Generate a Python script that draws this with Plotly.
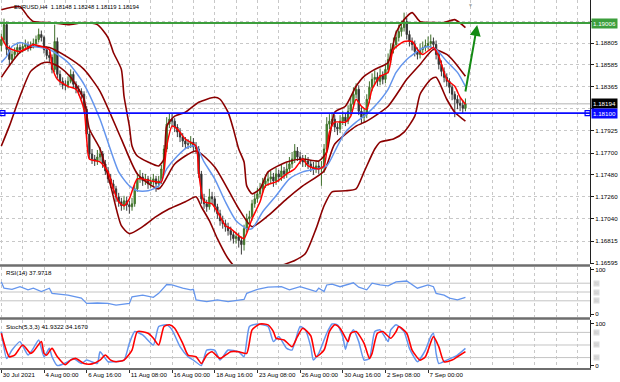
import plotly.graph_objects as go

# ---------------- data ----------------
closes = [1.1884,1.1899,1.1874,1.1864,1.1869,1.1872,1.1876,1.1874,1.1877,1.1879,
          1.1876,1.1878,1.1880,1.1884,1.1889,1.1886,1.1874,1.1868,1.1866,1.1854,
          1.1882,1.1849,1.1842,1.1838,1.1838,1.1842,1.1849,1.1839,1.1834,1.1832,
          1.1829,1.1814,1.1789,1.1769,1.1764,1.1762,1.1766,1.1769,1.1759,1.1752,
          1.1744,1.1739,1.1734,1.1726,1.1721,1.1717,1.1722,1.1718,1.1716,1.1719,
          1.1734,1.1744,1.1746,1.1742,1.1744,1.1739,1.1741,1.1744,1.1739,1.1742,
          1.1754,1.1774,1.1799,1.1804,1.1802,1.1796,1.1791,1.1786,1.1782,1.1779,
          1.1779,1.1781,1.1776,1.1774,1.1749,1.1724,1.1719,1.1716,1.1726,1.1724,
          1.1716,1.1709,1.1702,1.1699,1.1696,1.1692,1.1688,1.1684,1.1686,1.1682,
          1.1678,1.1694,1.1704,1.1706,1.1719,1.1724,1.1729,1.1734,1.1739,1.1742,
          1.1744,1.1746,1.1742,1.1749,1.1746,1.1752,1.1749,1.1754,1.1759,1.1764,
          1.1772,1.1766,1.1764,1.1761,1.1762,1.1759,1.1756,1.1754,1.1757,1.1754,
          1.1756,1.1774,1.1799,1.1802,1.1804,1.1796,1.1794,1.1802,1.1806,1.1802,
          1.1812,1.1819,1.1829,1.1834,1.1812,1.1806,1.1809,1.1824,1.1836,1.1844,
          1.1846,1.1842,1.1848,1.1844,1.1854,1.1864,1.1874,1.1879,1.1886,1.1892,
          1.1896,1.1902,1.1889,1.1882,1.1879,1.1872,1.1869,1.1874,1.1876,1.1878,
          1.1880,1.1882,1.1879,1.1869,1.1859,1.1852,1.1846,1.1842,1.1836,1.1829,
          1.1824,1.1820,1.1818,1.1815,1.18194]
opens = [1.1878,1.1884,1.1899,1.1874,1.1864,1.1869,1.1872,1.1876,1.1874,1.1877,
         1.1879,1.1876,1.1878,1.1880,1.1884,1.1889,1.1886,1.1874,1.1868,1.1866,
         1.1854,1.1882,1.1849,1.1842,1.1838,1.1838,1.1842,1.1849,1.1839,1.1834,
         1.1832,1.1829,1.1814,1.1789,1.1769,1.1764,1.1762,1.1766,1.1769,1.1759,
         1.1752,1.1744,1.1739,1.1734,1.1726,1.1721,1.1717,1.1722,1.1718,1.1716,
         1.1719,1.1734,1.1744,1.1746,1.1742,1.1744,1.1739,1.1741,1.1744,1.1739,
         1.1742,1.1754,1.1774,1.1799,1.1804,1.1802,1.1796,1.1791,1.1786,1.1782,
         1.1779,1.1779,1.1781,1.1776,1.1774,1.1749,1.1724,1.1719,1.1716,1.1726,
         1.1724,1.1716,1.1709,1.1702,1.1699,1.1696,1.1692,1.1688,1.1684,1.1686,
         1.1682,1.1678,1.1694,1.1704,1.1706,1.1719,1.1724,1.1729,1.1734,1.1739,
         1.1742,1.1744,1.1746,1.1742,1.1749,1.1746,1.1752,1.1749,1.1754,1.1759,
         1.1764,1.1772,1.1766,1.1764,1.1761,1.1762,1.1759,1.1756,1.1754,1.1757,
         1.1754,1.1756,1.1774,1.1799,1.1802,1.1804,1.1796,1.1794,1.1802,1.1806,
         1.1802,1.1812,1.1819,1.1829,1.1834,1.1812,1.1806,1.1809,1.1824,1.1836,
         1.1844,1.1846,1.1842,1.1848,1.1844,1.1854,1.1864,1.1874,1.1879,1.1886,
         1.1892,1.1896,1.1902,1.1889,1.1882,1.1879,1.1872,1.1869,1.1874,1.1876,
         1.1878,1.1880,1.1882,1.1879,1.1869,1.1859,1.1852,1.1846,1.1842,1.1836,
         1.1829,1.1824,1.1820,1.1818,1.18148]
highs = [1.1890,1.1905,1.1902,1.1878,1.1873,1.1876,1.1881,1.1879,1.1881,1.1884,
         1.1882,1.1882,1.1885,1.1888,1.1895,1.1893,1.1888,1.1877,1.1872,1.1869,
         1.1899,1.1886,1.1853,1.1846,1.1843,1.1847,1.1854,1.1852,1.1842,1.1838,
         1.1835,1.1832,1.1817,1.1792,1.1774,1.1768,1.1773,1.1776,1.1772,1.1763,
         1.1756,1.1749,1.1743,1.1737,1.1730,1.1725,1.1727,1.1726,1.1722,1.1725,
         1.1738,1.1750,1.1753,1.1750,1.1749,1.1747,1.1746,1.1749,1.1747,1.1747,
         1.1758,1.1778,1.1806,1.1810,1.1809,1.1805,1.1799,1.1795,1.1790,1.1786,
         1.1784,1.1787,1.1785,1.1781,1.1777,1.1752,1.1729,1.1723,1.1734,1.1731,
         1.1727,1.1719,1.1713,1.1707,1.1703,1.1700,1.1696,1.1692,1.1691,1.1690,
         1.1686,1.1698,1.1709,1.1712,1.1723,1.1729,1.1735,1.1740,1.1745,1.1748,
         1.1751,1.1752,1.1750,1.1755,1.1753,1.1758,1.1756,1.1760,1.1766,1.1771,
         1.1779,1.1776,1.1771,1.1768,1.1768,1.1766,1.1763,1.1761,1.1763,1.1762,
         1.1762,1.1779,1.1806,1.1809,1.1811,1.1808,1.1800,1.1808,1.1812,1.1810,
         1.1818,1.1826,1.1836,1.1840,1.1838,1.1816,1.1815,1.1829,1.1842,1.1850,
         1.1853,1.1851,1.1855,1.1852,1.1860,1.1870,1.1880,1.1886,1.1893,1.1899,
         1.1903,1.1911,1.1906,1.1893,1.1886,1.1883,1.1876,1.1880,1.1882,1.1884,
         1.1887,1.1889,1.1886,1.1883,1.1872,1.1863,1.1856,1.1850,1.1845,1.1839,
         1.1832,1.1828,1.1825,1.1823,1.18248]
lows = [1.1872,1.1880,1.1868,1.1858,1.1860,1.1865,1.1868,1.1870,1.1871,1.1873,
        1.1872,1.1873,1.1875,1.1877,1.1881,1.1882,1.1870,1.1864,1.1861,1.1850,
        1.1851,1.1845,1.1838,1.1834,1.1833,1.1835,1.1840,1.1835,1.1830,1.1828,
        1.1824,1.1810,1.1784,1.1764,1.1759,1.1757,1.1758,1.1762,1.1755,1.1748,
        1.1740,1.1735,1.1729,1.1721,1.1716,1.1712,1.1713,1.1712,1.1709,1.1712,
        1.1716,1.1731,1.1740,1.1737,1.1738,1.1734,1.1735,1.1737,1.1731,1.1735,
        1.1739,1.1751,1.1771,1.1795,1.1797,1.1791,1.1786,1.1781,1.1776,1.1774,
        1.1774,1.1775,1.1772,1.1769,1.1745,1.1719,1.1714,1.1711,1.1713,1.1719,
        1.1711,1.1704,1.1697,1.1694,1.1691,1.1687,1.1682,1.1679,1.1679,1.1675,
        1.1668,1.1672,1.1690,1.1699,1.1702,1.1715,1.1720,1.1725,1.1730,1.1735,
        1.1737,1.1739,1.1736,1.1738,1.1741,1.1742,1.1744,1.1745,1.1750,1.1755,
        1.1760,1.1762,1.1759,1.1756,1.1756,1.1754,1.1751,1.1748,1.1750,1.1749,
        1.1737,1.1750,1.1770,1.1794,1.1797,1.1791,1.1788,1.1790,1.1798,1.1797,
        1.1799,1.1808,1.1815,1.1825,1.1808,1.1799,1.1801,1.1805,1.1820,1.1832,
        1.1839,1.1837,1.1838,1.1839,1.1840,1.1850,1.1860,1.1870,1.1875,1.1882,
        1.1887,1.1892,1.1884,1.1877,1.1873,1.1867,1.1864,1.1865,1.1870,1.1872,
        1.1874,1.1876,1.1874,1.1864,1.1854,1.1847,1.1841,1.1837,1.1830,1.1823,
        1.1806,1.1814,1.1812,1.1810,1.18119]
bar_idx = list(range(len(closes)))

# Bollinger upper / middle / lower (dark red), read at sample bars
bbu_idx = [0,7,10,12,18,25,31,36,40,42,45,46,48,49,51,55,59,61,62,65,69,74,80,82,85,87,89,91,92,94,
           97,100,107,113,119,122,125,129,133,136,140,145,148,151,154,157,162,166,170,174]
bbu_val = [1.1914,1.1917,1.1907,1.1902,1.1901,1.1899,1.1901,1.1899,1.1886,1.1871,
           1.1854,1.1827,1.1797,1.1777,1.1767,1.1761,1.1757,1.1764,1.1797,1.1807,
           1.1811,1.1821,1.1826,1.1824,1.1811,1.1794,1.1774,1.1761,1.1737,1.1729,
           1.1734,1.1751,1.1761,1.1764,1.1762,1.1771,1.1811,1.1817,1.1837,1.1847,
           1.1854,1.1861,1.1891,1.1904,1.1911,1.1902,1.1901,1.1901,1.1904,1.1896]
bbl_idx = [0,3,7,11,15,18,22,26,31,33,37,41,45,48,53,58,63,69,73,75,78,81,85,89,93,99,104,110,114,118,
           121,124,129,133,136,140,142,147,151,155,157,161,163,167,170,174]
bbl_val = [1.1777,1.1797,1.1827,1.1852,1.1860,1.1861,1.1856,1.1846,1.1824,1.1794,
           1.1774,1.1737,1.1697,1.1689,1.1696,1.1706,1.1714,1.1721,1.1726,1.1716,
           1.1702,1.1684,1.1664,1.1652,1.1646,1.1649,1.1656,1.1662,1.1669,1.1694,
           1.1717,1.1731,1.1732,1.1734,1.1751,1.1774,1.1781,1.1784,1.1791,1.1807,
           1.1829,1.1844,1.1846,1.1824,1.1811,1.1802]
bbm_idx = [0,7,12,18,25,31,37,45,51,59,65,73,80,89,94,100,107,113,121,125,133,137,145,152,157,162,167,170,174]
bbm_val = [1.1846,1.1871,1.1877,1.1876,1.1866,1.1854,1.1832,1.1784,1.1749,1.1734,
           1.1759,1.1772,1.1756,1.1714,1.1696,1.1707,1.1724,1.1737,1.1752,1.1779,
           1.1797,1.1802,1.1817,1.1844,1.1859,1.1874,1.1869,1.1861,1.1847]
# slower moving average (blue)
ma_slow_idx = [0,2,4,7,12,18,25,31,37,44,48,51,55,59,62,66,70,73,76,80,84,88,92,94,98,103,108,113,118,122,
               126,129,133,136,140,145,148,152,157,160,163,167,171,174]
ma_slow_val = [1.1861,1.1867,1.1877,1.1881,1.1877,1.1874,1.1861,1.1839,1.1804,1.1751,
               1.1737,1.1732,1.1732,1.1737,1.1754,1.1767,1.1776,1.1777,1.1761,1.1744,
               1.1721,1.1702,1.1694,1.1694,1.1711,1.1727,1.1744,1.1751,1.1754,1.1757,
               1.1777,1.1791,1.1801,1.1807,1.1817,1.1834,1.1851,1.1864,1.1874,1.1877,
               1.1874,1.1862,1.1851,1.1837]
# fast moving average (red)
ma_fast_idx = [0,2,4,7,10,12,15,18,19,21,25,28,31,32,33,37,40,42,44,46,48,51,56,60,62,64,66,69,73,74,
               76,79,81,84,86,89,91,94,97,99,103,107,110,113,115,119,121,123,125,129,131,133,135,137,139,
               142,145,147,151,154,156,158,162,164,167,170,172,174]
ma_fast_val = [1.1887,1.1877,1.1874,1.1872,1.1876,1.1879,1.1877,1.1874,1.1857,1.1844,
               1.1837,1.1834,1.1814,1.1784,1.1764,1.1761,1.1751,1.1734,1.1721,1.1717,
               1.1724,1.1744,1.1742,1.1741,1.1777,1.1797,1.1794,1.1784,1.1777,1.1751,
               1.1721,1.1719,1.1711,1.1697,1.1694,1.1687,1.1684,1.1704,1.1721,1.1737,
               1.1741,1.1749,1.1754,1.1764,1.1757,1.1754,1.1757,1.1791,1.1801,1.1801,
               1.1807,1.1824,1.1817,1.1814,1.1834,1.1847,1.1851,1.1874,1.1882,1.1882,
               1.1874,1.1869,1.1876,1.1867,1.1844,1.1837,1.1826,1.1819]
# RSI(14)
rsi_idx = [0,1,4,7,10,12,15,17,18,19,25,30,32,36,40,43,48,49,53,57,59,62,64,68,71,72,73,77,81,85,
           90,91,92,96,100,105,108,112,116,118,119,121,122,124,127,128,132,134,137,139,142,145,148,152,
           156,160,162,163,166,168,171,174]
rsi_val = [73,58.6,56,62,55,58.6,51,55,58.6,47,43,36,24,25,24,20,24,39,43,38,
           47,67,66,58.6,55,56,32,28,32,28,32,33,47,56,61,62,55,62,55,51,
           58.6,51,66,68,62,64,71,61,55,70,66,64,73,75,58.6,66,62,47,43,36,
           32,37.97]
rsi_levels = [70, 50, 30]
# Stochastic(5,3,3): %K (blue) and %D (red)
stk_idx = [0,2,4,7,10,12,14,16,18,19,21,25,27,30,32,36,37,40,42,46,48,50,53,57,59,62,64,67,70,72,
           75,77,80,82,85,89,91,93,96,100,102,104,107,109,112,114,116,117,119,122,124,126,128,129,130,
           132,134,136,138,140,142,145,146,148,151,153,156,159,161,162,163,164,167,171,174]
stk_val = [82,18,38,58,26,42,62,22,42,22,1,10,18,6,14,6,34,10,10,14,
           54,82,74,50,94,98,86,46,22,14,1,38,38,14,38,34,22,94,100,94,
           58,70,42,38,94,86,46,14,30,78,100,98,70,40,62,86,58,14,18,82,
           86,58,86,98,82,42,10,38,70,78,30,6,14,26,41.93]
std_idx = [0,3,5,8,11,12,15,16,17,19,21,24,26,28,31,34,37,39,41,43,46,49,51,55,57,59,61,63,65,68,
           70,73,75,77,79,82,86,89,92,94,97,100,102,103,106,109,111,113,116,118,121,123,125,127,130,
           131,133,136,138,139,141,143,146,148,149,152,154,157,159,162,164,166,169,171,174]
std_val = [78,22,26,50,30,34,58,30,26,42,22,3,14,18,6,5,14,26,14,10,
           14,38,82,78,66,50,94,98,90,54,26,22,6,26,34,18,34,34,30,86,
           100,98,82,66,62,46,70,90,72,22,38,82,98,90,58,78,82,54,18,30,
           78,82,66,82,94,78,38,14,22,70,46,10,14,22,34.17]
stoch_levels = [80, 50, 20]

# axis labels
date_idx = [0,16,32,48,64,80,96,112,128,144,160]
date_labels = ["30 Jul 2021","4 Aug 00:00","6 Aug 16:00","11 Aug 08:00","16 Aug 00:00",
               "18 Aug 16:00","23 Aug 08:00","26 Aug 00:00","30 Aug 16:00","2 Sep 08:00","7 Sep 00:00"]
grid_idx = [0,8,16,24,32,40,48,56,64,72,80,88,96,104,112,120,128,136,144,152,160,168,176,184,192,200,208,216]
price_ticks = [1.16595,1.16815,1.17040,1.17260,1.17480,1.17700,1.17925,1.18145,1.18365,1.18585,1.18805,1.19025]
price_tick_text = ["1.16595","1.16815","1.17040","1.17260","1.17480","1.17700","1.17925","","1.18365","1.18585","1.18805",""]

resistance = 1.19006
support = 1.18100
bid = 1.18194
arrow_idx = [173.9, 178.4]
arrow_price = [1.18303, 1.18986]
title_text = "EURUSD,H4  1.18148 1.18248 1.18119 1.18194"

# ---------------- figure ----------------
FONT = "Liberation Sans"
XR = [-0.5, 220.7]
DARKRED = "#8B0000"
CORN = "#6495ED"

fig = go.Figure()

fig.add_trace(go.Candlestick(
    x=bar_idx, open=opens, high=highs, low=lows, close=closes,
    increasing=dict(line=dict(color="#3f6f2a", width=1), fillcolor="#46a02a"),
    decreasing=dict(line=dict(color="#3a3a3a", width=1), fillcolor="#1a1a1a"),
    whiskerwidth=0, xaxis="x", yaxis="y", showlegend=False, hoverinfo="skip"))

for ix, vals, col, w in [(bbu_idx, bbu_val, DARKRED, 1.6), (bbm_idx, bbm_val, DARKRED, 1.6),
                         (bbl_idx, bbl_val, DARKRED, 1.6), (ma_slow_idx, ma_slow_val, CORN, 1.5),
                         (ma_fast_idx, ma_fast_val, "#FF0000", 1.5)]:
    fig.add_trace(go.Scatter(x=ix, y=vals, mode="lines", line=dict(color=col, width=w, shape="spline", smoothing=0.6),
                             xaxis="x", yaxis="y", showlegend=False, hoverinfo="skip"))

# support line end squares
fig.add_trace(go.Scatter(x=[XR[0] + 0.9, XR[1] - 0.9], y=[support, support], mode="markers",
                         marker=dict(symbol="square-open", size=5, color="#0000FF", line=dict(width=1.2)),
                         xaxis="x", yaxis="y", showlegend=False, hoverinfo="skip"))

fig.add_trace(go.Scatter(x=rsi_idx, y=rsi_val, mode="lines", line=dict(color=CORN, width=1.3),
                         xaxis="x2", yaxis="y2", showlegend=False, hoverinfo="skip"))
fig.add_trace(go.Scatter(x=stk_idx, y=stk_val, mode="lines", line=dict(color=CORN, width=1.5, shape="spline", smoothing=0.5),
                         xaxis="x3", yaxis="y3", showlegend=False, hoverinfo="skip"))
fig.add_trace(go.Scatter(x=std_idx, y=std_val, mode="lines", line=dict(color="#FF0000", width=1.6, shape="spline", smoothing=0.6),
                         xaxis="x3", yaxis="y3", showlegend=False, hoverinfo="skip"))

H = 368.0
def py(px):
    return 1 - px / H

gridc = "#c8c8c8"
xcommon = dict(range=XR, showgrid=False, zeroline=False, showticklabels=False,
               minor=dict(tickvals=grid_idx, showgrid=True, gridcolor=gridc, griddash="dot", gridwidth=1, ticks=""),
               fixedrange=True)
ycommon = dict(side="right", zeroline=False, showline=True, linecolor="#202020", linewidth=1,
               ticks="outside", ticklen=3, tickcolor="#202020",
               tickfont=dict(family=FONT, size=6.2, color="#000"), fixedrange=True)

fig.update_layout(
    width=620, height=382, margin=dict(l=0, r=30, t=0, b=14, autoexpand=False),
    paper_bgcolor="white", plot_bgcolor="white", showlegend=False,
    xaxis=dict(domain=[0, 1], anchor="y", rangeslider=dict(visible=False), **xcommon),
    xaxis2=dict(domain=[0, 1], anchor="y2", **xcommon),
    xaxis3=dict(domain=[0, 1], anchor="y3", range=XR, showgrid=False, zeroline=False,
                tickvals=date_idx, ticktext=date_labels, ticks="outside", ticklen=3, tickcolor="#303030",
                ticklabelposition="outside right", tickangle=0, automargin=False,
                tickfont=dict(family=FONT, size=6.2, color="#000"),
                minor=dict(tickvals=grid_idx, showgrid=True, gridcolor=gridc, griddash="dot", gridwidth=1, ticks=""),
                showline=True, linecolor="#6e6e6e", linewidth=2, fixedrange=True),
    yaxis=dict(domain=[py(264), 1], anchor="x", range=[1.16585, 1.19237], automargin=False,
               tickvals=price_ticks, ticktext=price_tick_text,
               showgrid=True, gridcolor=gridc, griddash="dot", **ycommon),
    yaxis2=dict(domain=[py(317), py(267)], anchor="x2", range=[-6.8, 106.8], automargin=False,
                tickvals=[0, 100], ticktext=["0", "100"], showgrid=False, **ycommon),
    yaxis3=dict(domain=[py(368), py(320)], anchor="x3", range=[-4.8, 109.5], automargin=False,
                tickvals=[0, 100], ticktext=["0", "100"], showgrid=False, **ycommon),
)

shapes = []
for lv in rsi_levels:
    shapes.append(dict(type="line", xref="x2 domain", yref="y2", x0=0, x1=1, y0=lv, y1=lv,
                       line=dict(color="#c4c4c4", width=1), layer="below"))
for lv in stoch_levels:
    shapes.append(dict(type="line", xref="x3 domain", yref="y3", x0=0, x1=1, y0=lv, y1=lv,
                       line=dict(color="#c4c4c4", width=1), layer="below"))
shapes.append(dict(type="line", xref="x domain", yref="y", x0=0, x1=1, y0=bid, y1=bid,
                   line=dict(color="#b4b4b4", width=1), layer="below"))
shapes.append(dict(type="line", xref="x domain", yref="y", x0=0, x1=1, y0=support, y1=support,
                   line=dict(color="#0a0aff", width=1.8)))
shapes.append(dict(type="line", xref="x domain", yref="y", x0=0, x1=1, y0=resistance, y1=resistance,
                   line=dict(color="#3c9e3c", width=2)))
for sep in [265.5, 318.5]:
    shapes.append(dict(type="line", xref="paper", yref="paper", x0=0, x1=1, y0=py(sep), y1=py(sep),
                       line=dict(color="#6e6e6e", width=2.5)))
fig.update_layout(shapes=shapes)

ann = []
ann.append(dict(xref="paper", yref="paper", x=12 / 590, y=py(7), xanchor="left", yanchor="middle",
                text=title_text, showarrow=False, font=dict(family=FONT, size=5.8, color="#000")))
ann.append(dict(xref="paper", yref="paper", x=470 / 590, y=1, xanchor="center", yanchor="top",
                text="▼", showarrow=False, font=dict(family=FONT, size=5, color="#a0a0a0")))
ann.append(dict(xref="paper", yref="paper", x=4 / 590, y=py(272), xanchor="left", yanchor="middle",
                text="RSI(14) 37.9718", showarrow=False, font=dict(family=FONT, size=6.2, color="#000")))
ann.append(dict(xref="paper", yref="paper", x=4 / 590, y=py(326), xanchor="left", yanchor="middle",
                text="Stoch(5,3,3) 41.9322 34.1670", showarrow=False, font=dict(family=FONT, size=6.2, color="#000")))
for val, bg in [(resistance, "#3c9e3c"), (bid, "#000000"), (support, "#0a0aff")]:
    ann.append(dict(xref="paper", yref="y", x=1.0, y=val, xanchor="left", yanchor="middle",
                    text="%.5f" % val, showarrow=False, bgcolor=bg, borderpad=1, xshift=1,
                    font=dict(family=FONT, size=6.2, color="#ffffff")))
for lv in rsi_levels:
    ann.append(dict(xref="paper", yref="y2", x=1.0, y=lv, xanchor="left", yanchor="middle", xshift=3,
                    text=str(lv), showarrow=False, bgcolor="#dcdcdc", borderpad=0,
                    font=dict(family=FONT, size=4, color="#c4c4c4")))
for lv in stoch_levels:
    ann.append(dict(xref="paper", yref="y3", x=1.0, y=lv, xanchor="left", yanchor="middle", xshift=3,
                    text=str(lv), showarrow=False, bgcolor="#dcdcdc", borderpad=0,
                    font=dict(family=FONT, size=4, color="#c4c4c4")))
ann.append(dict(xref="x", yref="y", axref="x", ayref="y", x=arrow_idx[1], y=arrow_price[1],
                ax=arrow_idx[0], ay=arrow_price[0], showarrow=True, arrowhead=2, arrowsize=1.1,
                arrowwidth=2, arrowcolor="#138a13", text=""))
fig.update_layout(annotations=ann)

fig.write_html("out.html", config={"displayModeBar": False},
               post_script="document.body.style.margin='0';document.body.style.overflow='hidden';")
